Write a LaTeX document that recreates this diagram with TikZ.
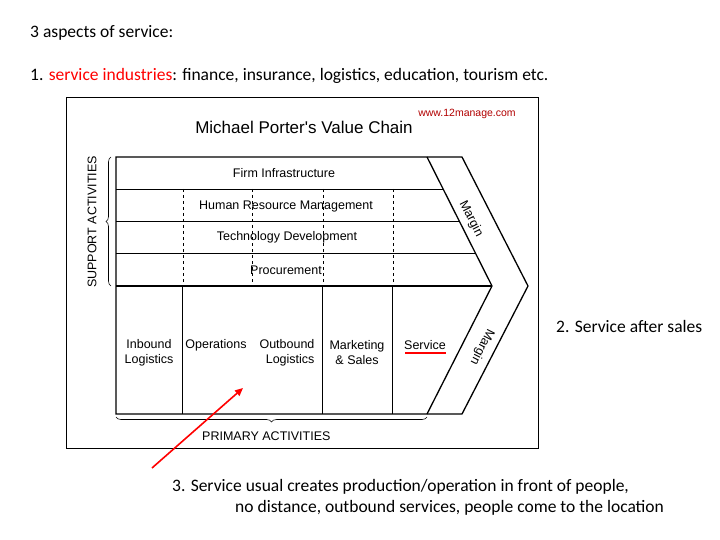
\documentclass[tikz,border=0pt]{standalone}
\usepackage{fontspec}
\setmainfont{Carlito}
\newfontfamily\arial{Liberation Sans}
\usetikzlibrary{decorations.pathreplacing,arrows.meta}
\begin{document}
\begin{tikzpicture}[x=1pt,y=-1pt,
  lbl/.style={font=\arial\fontsize{12.5}{15}\selectfont,align=center,inner sep=0},
  note/.style={font=\fontsize{17.5}{20}\selectfont,anchor=west,inner sep=0},
  thick1/.style={line width=1.3pt},
  thin1/.style={line width=0.6pt}]
\useasboundingbox (0,0) rectangle (720,540);
\fill[white] (0,0) rectangle (720,540);
\node[note] (t1) at (30,33) {3 aspects of service:};
\node[note] (t2) at (30,76) {1. \textcolor{red}{service industries}: finance, insurance, logistics, education, tourism etc.};
\draw[thin1] (66,97) rectangle (538,448);
\node[font=\arial\fontsize{17}{18}\selectfont,inner sep=0] (title) at (304,127) {Michael Porter's Value Chain};
\node[font=\arial\fontsize{10.5}{11}\selectfont,text=red!70!black,inner sep=0] (www) at (467,114) {www.12manage.com};
% support lines
\draw[thin1] (116,189) -- (443,189);
\draw[thin1] (116,221) -- (459,221);
\draw[thin1] (116,253) -- (476,253);
\foreach \x in {183,252,323,393} \draw[thin1,dashed] (\x,189) -- (\x,286);
% chevron
\draw[thick1] (116,157) -- (462,157) -- (528,286) -- (462,414) -- (116,414) -- cycle;
\draw[thick1] (427,157) -- (492,286) -- (427,414);
\draw[thick1] (116,286) -- (492,286);
\foreach \x in {182,322,392} \draw[thin1] (\x,286) -- (\x,414);
% labels
\node[lbl] (fi) at (284,173) {Firm Infrastructure};
\node[lbl] (hr) at (286,206) {Human Resource Management};
\node[lbl] (td) at (287,237) {Technology Development};
\node[lbl] (pr) at (286,270) {Procurement};
\node[lbl] (il) at (149,353) {Inbound\\Logistics};
\node[lbl] (op) at (216,345) {Operations};
\node[lbl,align=right] (ol) at (287,353) {Outbound\\Logistics};
\node[lbl] (ms) at (357,353) {Marketing\\\& Sales};
\node[lbl] (sv) at (425,345) {Service};
\draw[red,line width=1.2pt] (405,353) -- (446,353);
\node[lbl,rotate=-63] (m1) at (471,219) {Margin};
\node[lbl,rotate=-117] (m2) at (482,347) {Margin};
% braces
\draw[thin1,decorate,decoration={brace,amplitude=5pt}] (111,286) -- (111,157);
\node[lbl,rotate=90] (sa) at (92,222) {SUPPORT ACTIVITIES};
\draw[thin1,decorate,decoration={brace,amplitude=5pt,mirror}] (116,417) -- (427,417);
\node[lbl,anchor=west] (pa) at (202,436) {PRIMARY ACTIVITIES};
% notes
\node[note] (n2) at (556,326) {2. Service after sales};
\node[note] (n3) at (172,487) {3. Service usual creates production/operation in front of people,};
\node[note] (n3b) at (235,508) {no distance, outbound services, people come to the location};
\coordinate (as) at (152,468);
\coordinate (ae) at (243,388);
\draw[red,line width=1.6pt,-{Triangle[length=8pt,width=7pt]}] (as) -- (ae);
\end{tikzpicture}
\end{document}
